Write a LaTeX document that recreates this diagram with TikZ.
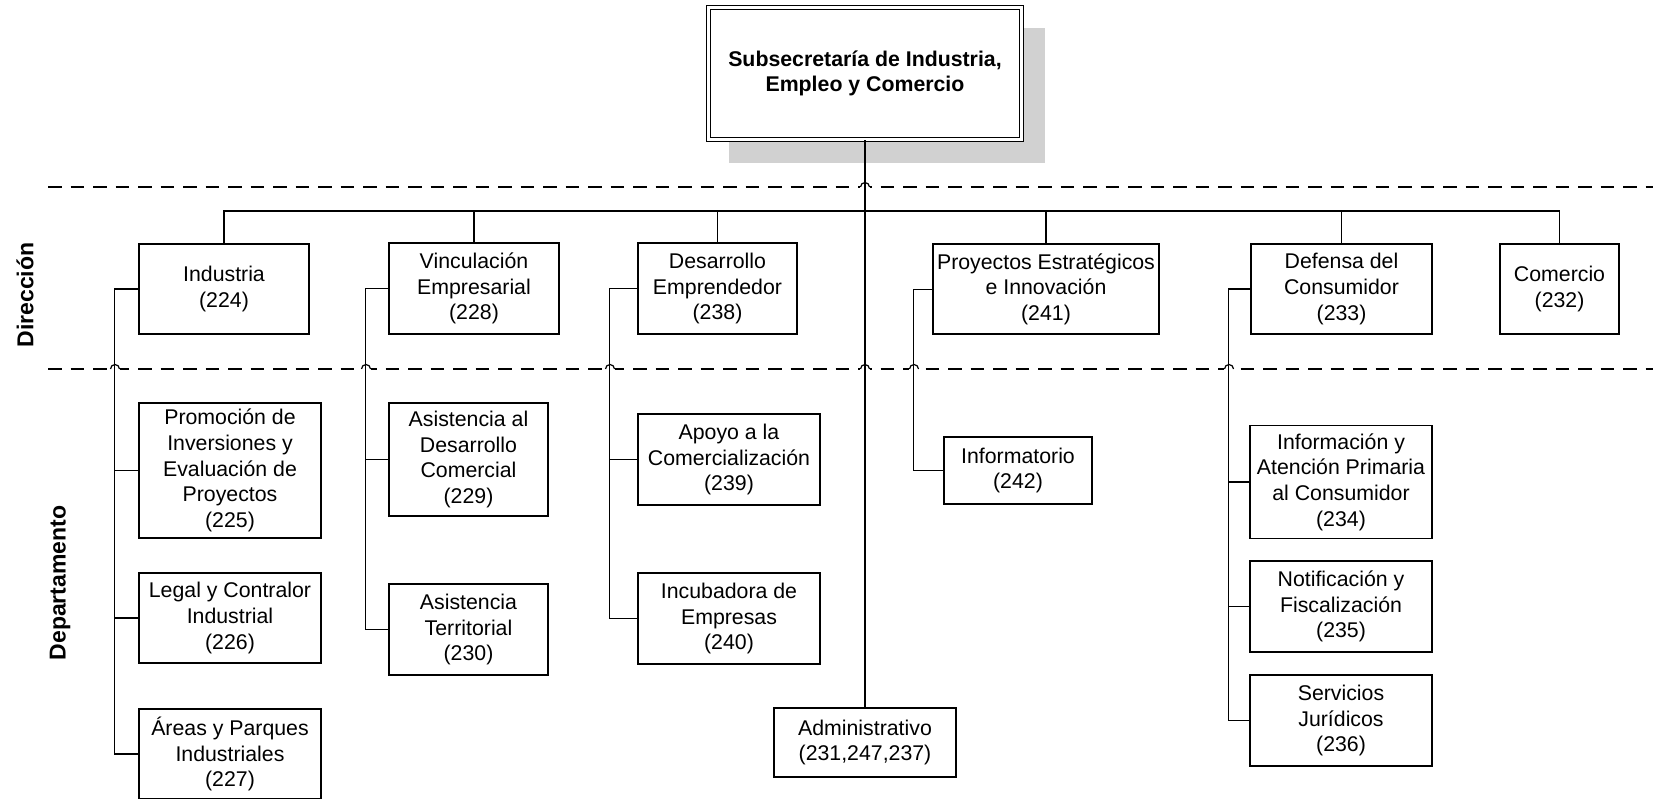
\documentclass[tikz,border=0pt]{standalone}
\usepackage{fontspec}
\setmainfont{Liberation Sans}
\usepackage{tikz}
\usetikzlibrary{shadows}
\tikzset{
    unit/.style={draw, line width=1.2pt, align=center, inner sep=0pt, fill=white},
    link/.style={line width=1.6pt},
    branch/.style={to path={-- (\tikztostart |- bus) -| (\tikztotarget)}},
    elbow/.style={to path={-- ++(-#1,0) |- (\tikztotarget)}},
    band/.style={line width=1.5pt, dash pattern=on 13.5pt off 9pt},
    rowlabel/.style={rotate=90, font=\bfseries\fontsize{23pt}{28pt}\selectfont}
}

\begin{document}
\begin{tikzpicture}[x=1pt,y=-1pt,every node/.style={font=\fontsize{21.3pt}{25.6pt}\selectfont}]
    \useasboundingbox (0,0) rectangle (1653,799);
    \coordinate (bus) at (865,211);
    % separadores de niveles
    \draw[band] (48,187) -- (1653,187);
    \draw[band] (48,369) -- (1653,369);
    \foreach \hx/\hy in {865/187,115/369,366/369,610/369,865/369,914/369,1229/369}{
        \draw[white, line width=3pt] (\hx-5,\hy) -- (\hx+5,\hy);
        \draw[line width=1.2pt] (\hx-4.5,\hy) arc[start angle=180, end angle=0, radius=4.5pt];
    }
    \node[rowlabel] at (25,295) (dirlabel) {Dirección};
    \node[rowlabel] at (60,583) (deplabel) {Departamento};
    % subsecretaria
    \node[unit, double, double distance=3pt, minimum width=313pt, minimum height=132pt,
        font=\bfseries\fontsize{21.3pt}{25.6pt}\selectfont,
        drop shadow={shadow xshift=22pt, shadow yshift=-22pt, opacity=1, fill=black!18, draw=black!18, line width=3pt}]
        at (865,73.5) (sub) {Subsecretaría de Industria,\\Empleo y Comercio};
    % direcciones
    \node[unit, minimum width=170pt, minimum height=90pt] at (224,289) (ind) {Industria\\(224)};
    \node[unit, minimum width=170pt, minimum height=91pt] at (474,288.5) (vin) {Vinculación\\Empresarial\\(228)};
    \node[unit, minimum width=159pt, minimum height=91pt] at (717.5,288.5) (des) {Desarrollo\\Emprendedor\\(238)};
    \node[unit, minimum width=226pt, minimum height=90pt] at (1046,289) (pro) {Proyectos Estratégicos\\e Innovación\\(241)};
    \node[unit, minimum width=181pt, minimum height=90pt] at (1341.5,289) (def) {Defensa del\\Consumidor\\(233)};
    \node[unit, minimum width=119pt, minimum height=90pt] at (1559.5,289) (com) {Comercio\\(232)};
    % departamentos
    \node[unit, minimum width=182pt, minimum height=135pt] at (230,470.5) (prom) {Promoción de\\Inversiones y\\Evaluación de\\Proyectos\\(225)};
    \node[unit, minimum width=182pt, minimum height=90pt] at (230,618) (legal) {Legal y Contralor\\Industrial\\(226)};
    \node[unit, minimum width=182pt, minimum height=90pt] at (230,754) (areas) {Áreas y Parques\\Industriales\\(227)};
    \node[unit, minimum width=159pt, minimum height=113pt] at (468.5,459.5) (asdc) {Asistencia al\\Desarrollo\\Comercial\\(229)};
    \node[unit, minimum width=159pt, minimum height=91pt] at (468.5,629.5) (aster) {Asistencia\\Territorial\\(230)};
    \node[unit, minimum width=182pt, minimum height=91pt] at (729,459.5) (apoyo) {Apoyo a la\\Comercialización\\(239)};
    \node[unit, minimum width=182pt, minimum height=91pt] at (729,618.5) (incub) {Incubadora de\\Empresas\\(240)};
    \node[unit, minimum width=148pt, minimum height=67pt] at (1018,470.5) (info) {Informatorio\\(242)};
    \node[unit, minimum width=182pt, minimum height=113pt] at (1341,482) (infoatn) {Información y\\Atención Primaria\\al Consumidor\\(234)};
    \node[unit, minimum width=182pt, minimum height=91pt] at (1341,606.5) (notif) {Notificación y\\Fiscalización\\(235)};
    \node[unit, minimum width=182pt, minimum height=91pt] at (1341,720.5) (serv) {Servicios\\Jurídicos\\(236)};
    \node[unit, minimum width=182pt, minimum height=69pt] at (865,742.5) (admin) {Administrativo\\(231,247,237)};
    \path[link]
    (sub.south) edge (admin.north)
    (sub.south) edge[branch] (ind.north)
    (sub.south) edge[branch] (vin.north)
    (sub.south) edge[branch] (des.north)
    (sub.south) edge[branch] (pro.north)
    (sub.south) edge[branch] (def.north)
    (sub.south) edge[branch] (com.north)
    (ind.west) edge[elbow=24] (prom.west)
    (ind.west) edge[elbow=24] (legal.west)
    (ind.west) edge[elbow=24] (areas.west)
    (vin.west) edge[elbow=23] (asdc.west)
    (vin.west) edge[elbow=23] (aster.west)
    (des.west) edge[elbow=28] (apoyo.west)
    (des.west) edge[elbow=28] (incub.west)
    (pro.west) edge[elbow=19, line width=0.8pt] (info.west)
    (def.west) edge[elbow=22] (infoatn.west)
    (def.west) edge[elbow=22] (notif.west)
    (def.west) edge[elbow=22] (serv.west)
    ;
\end{tikzpicture}
\end{document}
